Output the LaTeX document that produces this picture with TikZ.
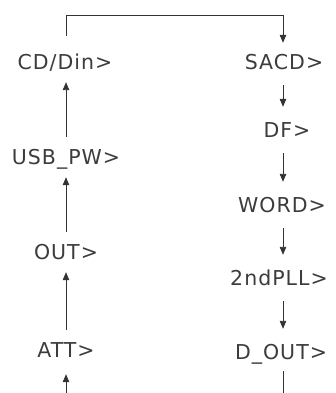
\documentclass[tikz,border=0pt]{standalone}
\usepackage{fontspec}
\setmainfont{DejaVu Sans}[LetterSpace=5]
\usetikzlibrary{arrows.meta}
\definecolor{txt}{HTML}{3C3C3C}
\definecolor{ln}{HTML}{333333}
\tikzset{
  lbl/.style={font=\fontsize{20.5}{24}\selectfont, text=txt, inner sep=0pt,
    minimum height=40pt, text height=15pt, text depth=0pt, anchor=center},
  rlbl/.style={lbl, minimum height=46pt},
  conn/.style={draw=ln, line width=0.9pt, -{Triangle[length=8pt,width=6.5pt]}},
  plain/.style={draw=ln, line width=0.9pt},
}
\begin{document}
\begin{tikzpicture}[x=1pt,y=-1pt]
\useasboundingbox[fill=white] (0,0) rectangle (335,393);
\coordinate (lc) at (66,0);
\coordinate (rc) at (283,0);
% left column
\node[lbl] (cd)  at (65,62)  {CD/Din>};
\node[lbl] (usb) at (66,157) {USB\_PW>};
\node[lbl] (out) at (66,252) {OUT>};
\node[lbl] (att) at (66,350) {ATT>};
% right column
\node[rlbl] (sacd) at (284,62)  {SACD>};
\node[rlbl] (df)   at (287,130) {DF>};
\node[rlbl] (word) at (282,205) {WORD>};
\node[rlbl] (pll)  at (279,278) {2ndPLL>};
\node[rlbl] (dout) at (281,352) {D\_OUT>};
\coordinate (lb) at (66,393);
\coordinate (rb) at (283,393);
\coordinate (tl) at (66,36);
% connectors
\draw[conn] (usb.north -| lc) -- (cd.south -| lc);
\draw[conn] (out.north -| lc) -- (usb.south -| lc);
\draw[conn] (att.north -| lc) -- (out.south -| lc);
\draw[conn] (lb) -- ([yshift=-4pt]att.south -| lc);
\draw[conn] (tl) |- (283,15) -- ([yshift=-4pt]sacd.north -| rc);
\draw[conn] (sacd.south -| rc) -- (df.north -| rc);
\draw[conn] (df.south -| rc) -- (word.north -| rc);
\draw[conn] (word.south -| rc) -- (pll.north -| rc);
\draw[conn] (pll.south -| rc) -- (dout.north -| rc);
\draw[plain] ([yshift=4pt]dout.south -| rc) -- (rb);
\end{tikzpicture}
\end{document}
